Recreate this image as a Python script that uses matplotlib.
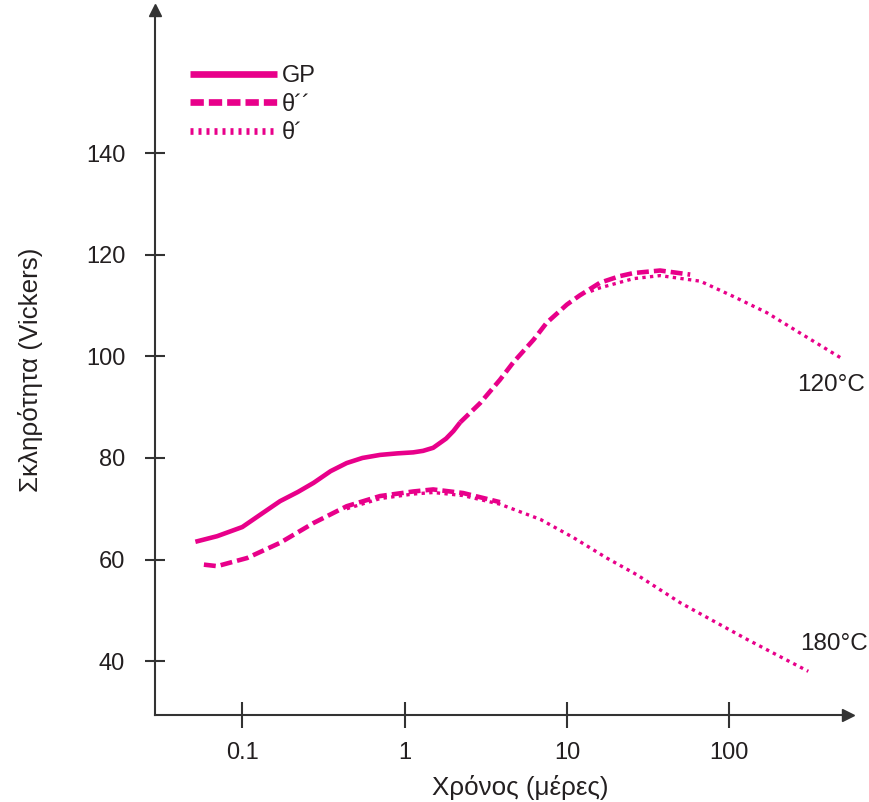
import matplotlib
matplotlib.use('Agg')
import matplotlib.pyplot as plt
from matplotlib.lines import Line2D

plt.rcParams['font.family'] = ['Liberation Sans', 'DejaVu Sans']

# hardness curves (time in days, hardness HV)
gp_120_x = [0.0514, 0.07, 0.1, 0.13, 0.171, 0.22, 0.275, 0.35, 0.44, 0.55, 0.706, 0.9, 1.13, 1.3, 1.5, 1.8, 2.0, 2.2]
gp_120_y = [63.5, 64.6, 66.4, 68.9, 71.5, 73.3, 75.1, 77.4, 79.0, 80.0, 80.6, 80.9, 81.1, 81.4, 82.0, 83.8, 85.3, 87.0]

th2_120_x = [2.2, 2.92, 3.87, 4.67, 6.24, 7.5, 10, 12, 16, 21.2, 25.7, 37.5, 57.5]
th2_120_y = [87.0, 90.8, 95.4, 98.8, 103.3, 106.6, 110.2, 112.0, 114.5, 115.8, 116.4, 116.9, 116.1]

th1_120_x = [14, 16, 25.7, 37.5, 66.4, 106, 170.6, 273, 505]
th1_120_y = [112.8, 113.5, 115.3, 115.9, 114.8, 111.8, 108.6, 104.6, 99.4]

th2_180_x = [0.058, 0.07, 0.107, 0.171, 0.275, 0.44, 0.706, 1.13, 1.5, 2.29, 3.87]
th2_180_y = [59.0, 58.7, 60.3, 63.3, 67.2, 70.5, 72.5, 73.4, 73.8, 73.1, 71.3]

th1_180_x = [0.44, 0.706, 1.13, 1.5, 2.29, 3.87, 6.87, 11, 17.6, 27, 49.9, 80, 128.5, 307]
th1_180_y = [70.0, 72.0, 72.9, 73.2, 72.6, 70.9, 67.9, 64.3, 60.3, 57.0, 51.5, 47.9, 44.3, 38.0]

x_ticks = [0.1, 1, 10, 100]
x_ticklabels = ['0.1', '1', '10', '100']
y_ticks = [40, 60, 80, 100, 120, 140]

pink = '#e8008a'
axis_col = '#333333'
text_col = '#231f20'

fig = plt.figure(figsize=(8.7, 8.02), dpi=100)
ax = fig.add_axes([0.1782, 0.1085, 0.7966, 0.8791])
ax.set_xscale('log')
ax.set_xlim(0.029, 540)
ax.set_ylim(29.4, 168.2)

ax.plot(gp_120_x, gp_120_y, color=pink, lw=3.3, solid_capstyle='butt', solid_joinstyle='round')
ax.plot(th2_120_x, th2_120_y, color=pink, lw=3.3, dashes=(2.6, 1.1))
ax.plot(th1_120_x, th1_120_y, color=pink, lw=2.4, dashes=(1.0, 1.3))
ax.plot(th2_180_x, th2_180_y, color=pink, lw=3.3, dashes=(2.6, 1.1))
ax.plot(th1_180_x, th1_180_y, color=pink, lw=2.4, dashes=(1.0, 1.3))

ax.text(262, 94.4, '120°C', fontsize=17.5, color=text_col, ha='left', va='center')
ax.text(273, 43.3, '180°C', fontsize=17.5, color=text_col, ha='left', va='center')

# axes: only left/bottom with arrow heads
for s in ['top', 'right']:
    ax.spines[s].set_visible(False)
for s in ['left', 'bottom']:
    ax.spines[s].set_color(axis_col)
    ax.spines[s].set_linewidth(1.5)
ax.plot(1, 0, marker='>', ms=9, color=axis_col, transform=ax.transAxes, clip_on=False)
ax.plot(0, 1, marker='^', ms=9, color=axis_col, transform=ax.transAxes, clip_on=False)

ax.set_xticks(x_ticks)
ax.set_xticklabels(x_ticklabels)
ax.xaxis.set_minor_locator(matplotlib.ticker.NullLocator())
ax.set_yticks(y_ticks)
ax.tick_params(axis='x', direction='inout', length=19, width=1.5, color=axis_col,
               pad=10, labelsize=17, labelcolor=text_col)
ax.tick_params(axis='y', direction='inout', length=15, width=1.5, color=axis_col,
               pad=14, labelsize=17, labelcolor=text_col)

ax.set_xlabel('Χρόνος (μέρες)', fontsize=18.7, color=text_col)
ax.xaxis.set_label_coords(0.527, -0.085)
ax.set_ylabel('Σκληρότητα (Vickers)', fontsize=18.7, color=text_col)
ax.yaxis.set_label_coords(-0.161, 0.49)

handles = [
    Line2D([], [], color=pink, lw=4.8, solid_capstyle='butt'),
    Line2D([], [], color=pink, lw=4.8, dashes=(2.0, 0.75)),
    Line2D([], [], color=pink, lw=4.8, dashes=(0.45, 0.75)),
]
leg = ax.legend(handles, ['GP', 'θ´´', 'θ´'], loc='upper left',
                bbox_to_anchor=(190 / 870, 1 - 65 / 802), bbox_transform=fig.transFigure,
                frameon=False, fontsize=17, handlelength=3.7, handletextpad=0.2,
                labelspacing=0.28, borderpad=0, borderaxespad=0)
for t in leg.get_texts():
    t.set_color(text_col)

fig.savefig('out.png', dpi=100)
